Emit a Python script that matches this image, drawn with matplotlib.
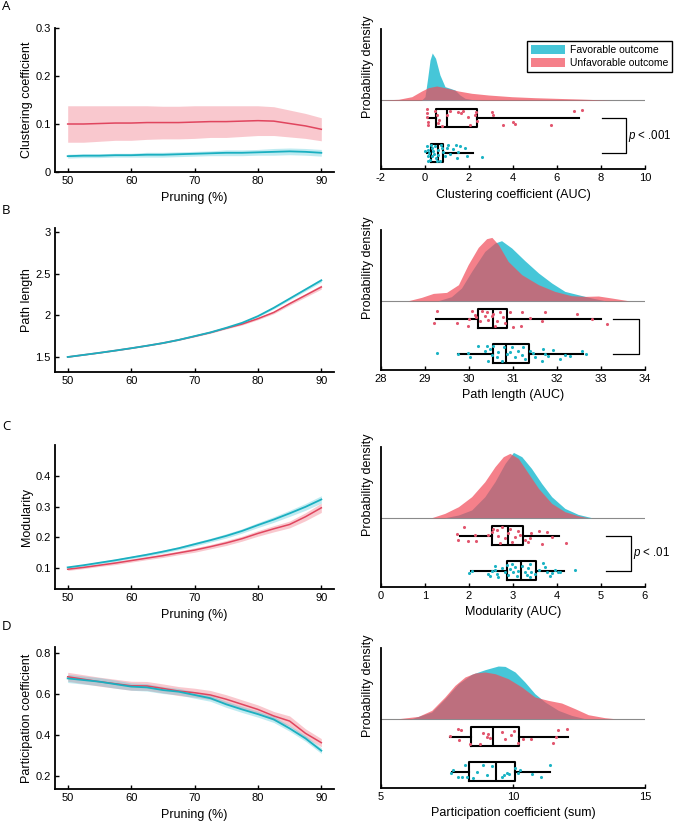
"""
Network metrics across pruning thresholds (left) and raincloud plots of the
AUC values per outcome group (right).
"""

import matplotlib
matplotlib.use("Agg")
import matplotlib.pyplot as plt
from matplotlib.patches import Patch
from matplotlib.ticker import FuncFormatter

plt.rcParams["font.family"] = ["Liberation Sans", "DejaVu Sans"]
plt.rcParams["mathtext.fontset"] = "custom"
plt.rcParams["mathtext.it"] = "Liberation Sans:italic"
plt.rcParams["mathtext.rm"] = "Liberation Sans"
plt.rcParams["axes.unicode_minus"] = False

# ============================================================
# Data: metric vs. pruning (mean and half-width of shaded band)
# ============================================================

pruning = [50, 52.5, 55, 57.5, 60, 62.5, 65, 67.5, 70, 72.5, 75, 77.5, 80, 82.5, 85, 87.5, 90]

clust_red = [0.100, 0.100, 0.101, 0.102, 0.102, 0.103, 0.103, 0.103, 0.104, 0.105, 0.105, 0.106, 0.107, 0.106, 0.101, 0.096, 0.089]
clust_red_ci = [0.038, 0.038, 0.037, 0.036, 0.036, 0.035, 0.034, 0.034, 0.034, 0.033, 0.033, 0.032, 0.031, 0.030, 0.028, 0.026, 0.024]
clust_teal = [0.033, 0.034, 0.034, 0.035, 0.035, 0.036, 0.036, 0.037, 0.038, 0.039, 0.040, 0.040, 0.041, 0.042, 0.043, 0.042, 0.040]
clust_teal_ci = [0.004, 0.004, 0.004, 0.004, 0.004, 0.005, 0.005, 0.005, 0.005, 0.005, 0.006, 0.006, 0.006, 0.007, 0.007, 0.007, 0.007]

path_red = [1.50, 1.525, 1.55, 1.577, 1.605, 1.635, 1.667, 1.705, 1.748, 1.793, 1.845, 1.895, 1.96, 2.035, 2.14, 2.24, 2.34]
path_red_ci = [0.004, 0.004, 0.004, 0.005, 0.005, 0.005, 0.006, 0.006, 0.007, 0.008, 0.009, 0.011, 0.013, 0.016, 0.019, 0.022, 0.026]
path_teal = [1.50, 1.525, 1.55, 1.577, 1.605, 1.635, 1.667, 1.705, 1.75, 1.795, 1.85, 1.91, 1.99, 2.09, 2.20, 2.31, 2.42]
path_teal_ci = [0.003, 0.003, 0.003, 0.004, 0.004, 0.004, 0.005, 0.005, 0.006, 0.007, 0.008, 0.009, 0.011, 0.013, 0.016, 0.019, 0.022]

mod_red = [0.097, 0.103, 0.110, 0.117, 0.125, 0.133, 0.141, 0.150, 0.159, 0.170, 0.182, 0.196, 0.213, 0.228, 0.242, 0.267, 0.296]
mod_red_ci = [0.004, 0.004, 0.004, 0.005, 0.005, 0.005, 0.006, 0.006, 0.007, 0.007, 0.008, 0.008, 0.009, 0.010, 0.011, 0.013, 0.015]
mod_teal = [0.103, 0.110, 0.118, 0.126, 0.135, 0.144, 0.154, 0.165, 0.178, 0.191, 0.205, 0.221, 0.240, 0.258, 0.278, 0.299, 0.323]
mod_teal_ci = [0.003, 0.003, 0.004, 0.004, 0.004, 0.005, 0.005, 0.005, 0.006, 0.006, 0.007, 0.007, 0.008, 0.009, 0.010, 0.011, 0.012]

part_red = [0.685, 0.673, 0.661, 0.651, 0.641, 0.640, 0.628, 0.615, 0.607, 0.596, 0.575, 0.550, 0.525, 0.493, 0.468, 0.408, 0.362]
part_red_ci = [0.022, 0.022, 0.022, 0.022, 0.022, 0.022, 0.022, 0.022, 0.022, 0.022, 0.022, 0.022, 0.022, 0.022, 0.025, 0.022, 0.020]
part_teal = [0.677, 0.669, 0.661, 0.649, 0.637, 0.633, 0.620, 0.612, 0.596, 0.580, 0.550, 0.525, 0.502, 0.476, 0.432, 0.383, 0.323]
part_teal_ci = [0.020, 0.020, 0.020, 0.020, 0.018, 0.018, 0.017, 0.016, 0.016, 0.015, 0.015, 0.015, 0.015, 0.015, 0.014, 0.014, 0.014]

# ============================================================
# Data: density profiles (x, height)
# ============================================================

clust_dens_red_x = [-2.0, -1.2, -0.6, -0.15, 0.15, 0.53, 0.91, 1.52, 2.12, 2.88, 3.94, 5.0, 5.9, 6.97, 7.88, 8.5]
clust_dens_red_h = [0, 0.7, 3.3, 9, 12.3, 14, 12.3, 9, 6.7, 5, 3.3, 2.3, 1.7, 1, 0.3, 0]
clust_dens_teal_x = [-0.15, 0.0, 0.12, 0.23, 0.33, 0.48, 0.68, 0.91, 1.14, 1.36, 1.59, 1.82, 2.12, 2.58]
clust_dens_teal_h = [0, 3.3, 21.7, 40, 47, 41.7, 25, 13.3, 11.7, 10, 5, 1.7, 0.5, 0]

path_dens_red_x = [28.62, 28.92, 29.19, 29.49, 29.76, 29.98, 30.21, 30.40, 30.52, 30.67, 30.89, 31.2, 31.58, 31.95, 32.33, 32.64, 32.94, 33.24, 33.62]
path_dens_red_h = [0, 3.3, 7.3, 8.3, 16, 36, 53.3, 62, 63.3, 56, 39.3, 26, 16, 9.3, 5, 4.3, 4.7, 2.7, 0]
path_dens_teal_x = [29.3, 29.6, 29.83, 30.06, 30.36, 30.59, 30.74, 30.97, 31.27, 31.58, 31.88, 32.18, 32.48, 32.79, 33.09]
path_dens_teal_h = [0, 4, 12.7, 29.3, 49.3, 57.7, 60, 52.7, 40, 27.7, 17.7, 9.3, 6, 2.7, 0]

mod_dens_red_x = [1.15, 1.45, 1.76, 2.06, 2.36, 2.59, 2.78, 2.93, 3.12, 3.35, 3.58, 3.88, 4.18, 4.48, 4.71]
mod_dens_red_h = [0, 4.3, 11, 21, 36, 51, 61, 64.3, 59.3, 44.3, 29.3, 14.3, 6, 2, 0]
mod_dens_teal_x = [1.45, 1.76, 2.06, 2.36, 2.59, 2.82, 3.01, 3.2, 3.42, 3.65, 3.88, 4.18, 4.48, 4.79]
mod_dens_teal_h = [0, 2.7, 7.7, 21, 36, 54.3, 65.3, 61, 49.3, 34.3, 21, 9.3, 3.3, 0]

part_dens_red_x = [5.66, 6.41, 6.92, 7.42, 7.8, 8.18, 8.56, 8.94, 9.32, 9.82, 10.33, 10.83, 11.34, 11.84, 12.35, 12.85, 13.48, 13.86]
part_dens_red_h = [0, 2.3, 8.3, 21.7, 33.3, 41.7, 45.7, 46.7, 45, 40, 31.7, 21.7, 18.3, 15.7, 10, 4, 1, 0]
part_dens_teal_x = [6.16, 6.92, 7.42, 7.93, 8.43, 8.94, 9.44, 9.7, 10.08, 10.45, 10.83, 11.21, 11.72, 12.22, 12.73]
part_dens_teal_h = [0, 6.7, 20, 35, 44.3, 49, 52.7, 52.3, 46.7, 36.7, 25, 16.7, 8.3, 3.3, 0]

# ============================================================
# Data: individual subjects (AUC value, vertical jitter) and box stats
# ============================================================

clust_pts_red = [0.08, 0.08, 0.11, 0.12, 0.15, 0.45, 0.53, 0.58, 0.65, 0.76, 0.98, 1.14, 1.52, 1.64, 1.74, 1.97, 2.05, 2.27, 2.32, 2.35, 3.03, 3.11, 3.56, 4.02, 4.09, 5.73, 6.79, 7.15]
clust_jit_red = [9, 5, 1, -4, -7, 7, 3, -5, -2, -8, 3, 7, 6, 5, 7, 1, -7, 3, 6, -3, 6, 3, -7, -4, -6, -7, 7, 8]
clust_pts_teal = [0.08, 0.15, 0.18, 0.12, 0.23, 0.30, 0.38, 0.33, 0.45, 0.48, 0.58, 0.61, 0.68, 0.76, 0.83, 0.91, 0.98, 1.06, 1.14, 1.29, 1.39, 1.44, 1.52, 1.59, 1.82, 1.89, 2.61, 0.15, 0.53, 0.27, 0.0, 0.42, 0.73]
clust_jit_teal = [7, 3, 0, -3, -7, 5, 2, -3, 7, -5, 3, -2, -8, 5, 1, -3, 5, 8, -1, 4, 8, -5, 1, 7, 5, -3, -4, -8, -8, 8, 2, -1, 8]

path_pts_red = [29.27, 29.21, 29.72, 29.98, 30.0, 30.06, 30.14, 30.17, 30.25, 30.29, 30.36, 30.40, 30.44, 30.52, 30.55, 30.59, 30.63, 30.70, 30.78, 30.82, 30.93, 31.01, 31.18, 31.20, 31.39, 31.65, 31.73, 32.45, 32.79, 33.13]
path_jit_red = [8, -4, -4, -7, 0, 8, 4, 2, -2, 8, 3, 7, -1, 3, 5, -7, -2, 7, 2, -4, 7, -8, -7, 7, 1, -2, 7, 5, 0, -5]
path_pts_teal = [29.27, 29.76, 29.98, 30.02, 30.21, 30.36, 30.40, 30.44, 30.48, 30.52, 30.55, 30.63, 30.67, 30.74, 30.80, 30.86, 30.93, 30.97, 31.05, 31.12, 31.20, 31.23, 31.27, 31.39, 31.46, 31.50, 31.65, 31.69, 31.73, 31.80, 31.92, 32.07, 32.18, 32.30, 32.56, 32.67]
path_jit_teal = [1, 0, 1, -3, 8, 3, 8, -7, 5, -1, 8, -3, 2, -7, 7, 0, 2, 7, -3, 3, -1, 7, -5, 3, 1, -3, -7, 5, 0, -2, 4, -5, -1, -2, 3, 0]

mod_pts_red = [1.72, 1.76, 1.89, 1.98, 2.14, 2.17, 2.44, 2.52, 2.55, 2.63, 2.67, 2.70, 2.74, 2.82, 2.89, 2.93, 2.97, 3.05, 3.12, 3.16, 3.27, 3.33, 3.39, 3.42, 3.58, 3.65, 3.77, 3.88, 4.20]
mod_jit_red = [2, -4, 9, -5, 1, -5, 1, 4, 7, 6, 0, -7, 9, -2, 3, 7, -6, -1, 5, 1, -4, -6, -2, 3, 5, -8, 4, -1, -7]
mod_pts_teal = [2.0, 2.06, 2.44, 2.48, 2.52, 2.59, 2.63, 2.67, 2.74, 2.82, 2.86, 2.89, 2.93, 2.97, 3.01, 3.05, 3.08, 3.12, 3.20, 3.27, 3.31, 3.35, 3.39, 3.42, 3.50, 3.58, 3.69, 3.73, 3.77, 3.84, 3.88, 3.95, 4.03, 4.07, 4.41, 3.39, 2.58]
mod_jit_teal = [-2, 0, -3, -5, 0, 5, -3, -6, 3, -1, 6, -4, 2, 7, -1, 4, -5, 0, 5, -1, -4, 3, 7, -1, -3, 1, 8, 4, -1, -5, -2, 1, -1, -1, 1, -6, 1]

part_pts_red = [7.61, 7.93, 8.03, 7.95, 8.37, 8.75, 8.88, 9.0, 9.07, 9.13, 9.57, 9.70, 9.92, 10.05, 10.20, 10.39, 10.68, 11.53, 11.72, 12.03, 11.63]
part_jit_red = [1, 8, 7, -3, -7, -7, 4, 0, 3, -1, 5, -2, 2, 6, -6, -2, -2, -6, 7, 8, 0]
part_pts_teal = [7.65, 7.74, 7.93, 8.06, 8.18, 8.24, 8.47, 8.62, 8.88, 9.0, 9.22, 9.57, 9.67, 9.76, 9.85, 10.08, 10.20, 10.27, 10.73, 11.06, 11.40]
part_jit_teal = [-1, 2, -5, -5, 7, -5, -6, 0, 7, -3, 6, -5, -3, -1, -2, 4, -1, 2, -2, -5, 7]

# box stats: (whisker low, q1, median, q3, whisker high)
clust_box_red = (0.12, 0.48, 0.98, 2.38, 7.02)
clust_box_teal = (0.08, 0.27, 0.57, 0.83, 2.17)
path_box_red = (29.24, 30.21, 30.55, 30.87, 33.0)
path_box_teal = (29.74, 30.55, 30.84, 31.37, 32.58)
mod_box_red = (1.80, 2.52, 2.88, 3.22, 4.05)
mod_box_teal = (2.05, 2.86, 3.18, 3.52, 4.17)
part_box_red = (7.61, 8.41, 9.24, 10.24, 12.07)
part_box_teal = (7.68, 8.33, 9.34, 10.08, 11.40)

group_labels = ["Favorable outcome", "Unfavorable outcome"]

# ============================================================
# Styling
# ============================================================

RED_LINE, TEAL_LINE = "#E0455E", "#1AAFC0"
RED_BAND, TEAL_BAND = "#EE5A6C", "#3EC4D6"
RED_FILL, TEAL_FILL = "#F14A58", "#46C6D8"
RED_PT, TEAL_PT = "#E2566E", "#1BB3C4"
TICK_FS = 8
LABEL_FS = 9

W, H = 674, 827
fig = plt.figure(figsize=(W / 100, H / 100), dpi=100)


def px_axes(left, top, right, bottom):
    return fig.add_axes([left / W, 1 - bottom / H, (right - left) / W, (bottom - top) / H])


def style(ax):
    for s in ("top", "right"):
        ax.spines[s].set_visible(False)
    for s in ("left", "bottom"):
        ax.spines[s].set_linewidth(1.3)
    ax.tick_params(direction="in", length=3, width=1, labelsize=TICK_FS, pad=3)


def line_panel(top, bottom, ylim, yticks, ylabel, red, red_ci, teal, teal_ci, xlabel=True):
    ax = px_axes(55, top, 334, bottom)
    for mean, ci, col in ((red, red_ci, RED_BAND), (teal, teal_ci, TEAL_BAND)):
        lo = [m - c for m, c in zip(mean, ci)]
        hi = [m + c for m, c in zip(mean, ci)]
        ax.fill_between(pruning, lo, hi, color=col, alpha=0.33, lw=0)
    ax.plot(pruning, red, color=RED_LINE, lw=1.1)
    ax.plot(pruning, teal, color=TEAL_LINE, lw=1.3)
    ax.set_xlim(48, 92)
    ax.set_ylim(ylim)
    ax.set_xticks([50, 60, 70, 80, 90])
    ax.set_yticks(yticks)
    ax.yaxis.set_major_formatter(FuncFormatter(lambda v, _: f"{v:g}"))
    ax.set_ylabel(ylabel, fontsize=LABEL_FS, labelpad=2)
    if xlabel:
        ax.set_xlabel("Pruning (%)", fontsize=LABEL_FS, labelpad=4)
    style(ax)
    return ax


def rain_panel(top, xlim, xticks, xlabel, dens_red, dens_teal, pts_red, pts_teal, box_red, box_teal):
    ax = px_axes(381, top, 645, top + 140)
    ax.set_ylim(-69, 71)
    ax.set_xlim(xlim)
    ax.axhline(0, color="#8a8a8a", lw=0.8, zorder=1)
    ax.fill_between(dens_teal[0], 0, dens_teal[1], color=TEAL_FILL, lw=0, zorder=2)
    ax.fill_between(dens_red[0], 0, dens_red[1], color=RED_FILL, alpha=0.7, lw=0, zorder=2)

    for (xs, jit), box, y, col in ((pts_red, box_red, -18, RED_PT), (pts_teal, box_teal, -53, TEAL_PT)):
        ax.scatter(xs, [y + j for j in jit], s=5, color=col, linewidths=0, zorder=3)
        stats = dict(whislo=box[0], q1=box[1], med=box[2], q3=box[3], whishi=box[4], fliers=[])
        lp = dict(color="black", linewidth=1.5)
        ax.bxp([stats], positions=[y], widths=18.6, orientation="horizontal",
               showfliers=False, showcaps=False, manage_ticks=False,
               boxprops=lp, whiskerprops=lp, medianprops=lp)

    ax.set_xticks(xticks)
    ax.set_yticks([])
    ax.set_xlabel(xlabel, fontsize=LABEL_FS, labelpad=4)
    ax.set_ylabel("Probability density", fontsize=LABEL_FS)
    ax.yaxis.set_label_coords(-0.027, 0.73)
    style(ax)
    return ax


def bracket(ax, x0, x1, text=None):
    ax.plot([x0, x1, x1, x0], [-18, -18, -53, -53], color="black", lw=0.9, clip_on=False)
    if text:
        ax.annotate(text, xy=(x1, -35.5), xytext=(1.2, 0), textcoords="offset points",
                    fontsize=8.3, va="center", ha="left", annotation_clip=False)


# ============================================================
# Panels
# ============================================================

line_panel(28, 172, (0, 0.3), [0, 0.1, 0.2, 0.3], "Clustering coefficient",
           clust_red, clust_red_ci, clust_teal, clust_teal_ci)
line_panel(227.8, 372, (1.32, 3.05), [1.5, 2, 2.5, 3], "Path length",
           path_red, path_red_ci, path_teal, path_teal_ci, xlabel=False)
line_panel(444.8, 589, (0.033, 0.5), [0.1, 0.2, 0.3, 0.4], "Modularity",
           mod_red, mod_red_ci, mod_teal, mod_teal_ci)
line_panel(647.2, 789, (0.135, 0.83), [0.2, 0.4, 0.6, 0.8], "Participation coefficient",
           part_red, part_red_ci, part_teal, part_teal_ci)

axA = rain_panel(29, (-2, 10), range(-2, 11, 2), "Clustering coefficient (AUC)",
                 (clust_dens_red_x, clust_dens_red_h), (clust_dens_teal_x, clust_dens_teal_h),
                 (clust_pts_red, clust_jit_red), (clust_pts_teal, clust_jit_teal),
                 clust_box_red, clust_box_teal)
bracket(axA, 8.05, 9.15, r"$p$ < .001")

axB = rain_panel(229.7, (28, 34), range(28, 35), "Path length (AUC)",
                 (path_dens_red_x, path_dens_red_h), (path_dens_teal_x, path_dens_teal_h),
                 (path_pts_red, path_jit_red), (path_pts_teal, path_jit_teal),
                 path_box_red, path_box_teal)
bracket(axB, 33.28, 33.86)

axC = rain_panel(446.7, (0, 6), range(0, 7), "Modularity (AUC)",
                 (mod_dens_red_x, mod_dens_red_h), (mod_dens_teal_x, mod_dens_teal_h),
                 (mod_pts_red, mod_jit_red), (mod_pts_teal, mod_jit_teal),
                 mod_box_red, mod_box_teal)
bracket(axC, 5.11, 5.68, r"$p$ < .01")

axD = rain_panel(647.7, (5, 15), [5, 10, 15], "Participation coefficient (sum)",
                 (part_dens_red_x, part_dens_red_h), (part_dens_teal_x, part_dens_teal_h),
                 (part_pts_red, part_jit_red), (part_pts_teal, part_jit_teal),
                 part_box_red, part_box_teal)

handles = [Patch(facecolor=TEAL_FILL, edgecolor="none"),
           Patch(facecolor=RED_FILL, alpha=0.7, edgecolor="none")]
leg = fig.legend(handles, group_labels, loc="upper left", fontsize=7.5,
                 bbox_to_anchor=(527 / W, 1 - 41 / H), bbox_transform=fig.transFigure,
                 fancybox=False, framealpha=1, edgecolor="black", borderpad=0.4,
                 handlelength=3.2, handleheight=1.0, handletextpad=0.5, labelspacing=0.25,
                 borderaxespad=0)
leg.get_frame().set_linewidth(1.0)

for letter, y in (("A", 7), ("B", 210), ("C", 427), ("D", 627)):
    fig.text(2 / W, 1 - y / H, letter, fontsize=9.5, va="center", ha="left",
             family=["Open Sans", "DejaVu Sans"])

fig.savefig("out.png", dpi=100)
